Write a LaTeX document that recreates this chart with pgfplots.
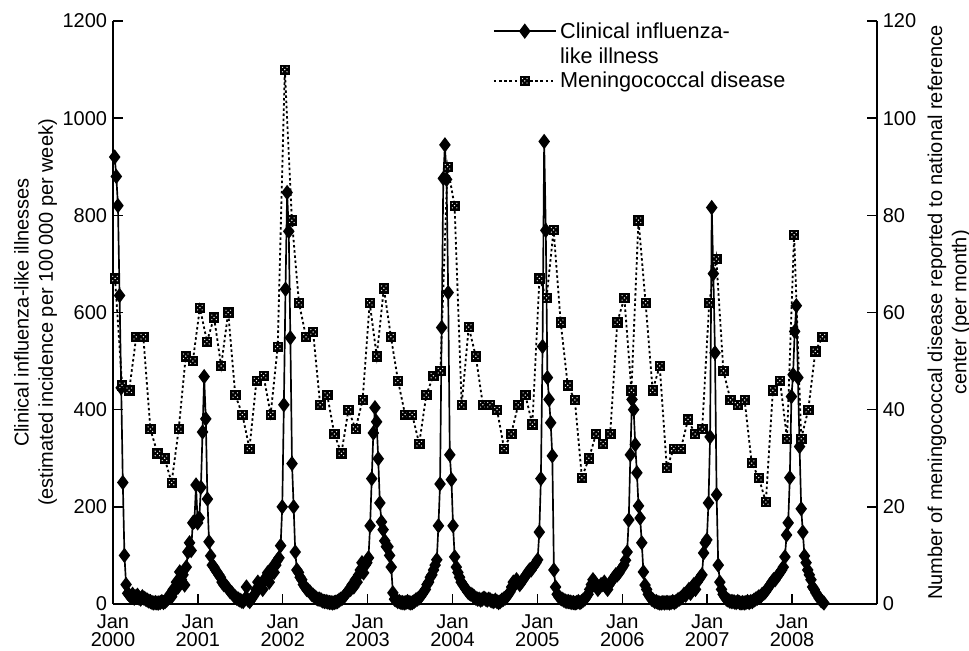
\documentclass[border=0pt]{standalone}
\usepackage{fontspec}
\setmainfont{Liberation Sans}
\usepackage{pgfplots}
\pgfplotsset{compat=1.18}
\usepackage{pgfplotstable}

% black box with a light dotted cross inside
\pgfdeclareplotmark{mbox}{%
  \pgfpathrectangle{\pgfqpoint{-\pgfplotmarksize}{-\pgfplotmarksize}}{\pgfqpoint{2\pgfplotmarksize}{2\pgfplotmarksize}}%
  \pgfusepathqfillstroke
  \pgfscope
  \pgfsetfillcolor{white}%
  \pgfpathcircle{\pgfqpoint{0pt}{0pt}}{0.16\pgfplotmarksize}%
  \pgfpathcircle{\pgfqpoint{0.48\pgfplotmarksize}{0.48\pgfplotmarksize}}{0.14\pgfplotmarksize}%
  \pgfpathcircle{\pgfqpoint{-0.48\pgfplotmarksize}{0.48\pgfplotmarksize}}{0.14\pgfplotmarksize}%
  \pgfpathcircle{\pgfqpoint{0.48\pgfplotmarksize}{-0.48\pgfplotmarksize}}{0.14\pgfplotmarksize}%
  \pgfpathcircle{\pgfqpoint{-0.48\pgfplotmarksize}{-0.48\pgfplotmarksize}}{0.14\pgfplotmarksize}%
  \pgfusepathqfill
  \endpgfscope
}

% clinical influenza-like illness, weekly, from first week of 2000
\pgfplotstableread[row sep=\\]{
v\\
920\\ 880\\ 820\\ 635\\ 445\\ 250\\ 100\\ 40\\ 22\\ 18\\
15\\ 20\\ 12\\ 15\\ 18\\ 12\\ 10\\ 15\\ 12\\ 10\\
8\\ 6\\ 5\\ 3\\ 2\\ 3\\ 2\\ 2\\ 3\\ 5\\
3\\ 5\\ 8\\ 12\\ 20\\ 15\\ 30\\ 28\\ 45\\ 35\\
66\\ 50\\ 60\\ 39\\ 76\\ 107\\ 126\\ 110\\ 167\\ 170\\
245\\ 167\\ 177\\ 240\\ 354\\ 468\\ 381\\ 216\\ 128\\ 99\\
80\\ 76\\ 70\\ 65\\ 60\\ 55\\ 45\\ 40\\ 39\\ 35\\
30\\ 25\\ 23\\ 18\\ 15\\ 12\\ 10\\ 8\\ 6\\ 5\\
10\\ 35\\ 8\\ 5\\ 10\\ 15\\ 20\\ 30\\ 45\\ 35\\
40\\ 30\\ 50\\ 55\\ 64\\ 45\\ 60\\ 76\\ 65\\ 80\\
90\\ 95\\ 120\\ 200\\ 410\\ 648\\ 847\\ 767\\ 548\\ 289\\
200\\ 107\\ 70\\ 65\\ 55\\ 50\\ 40\\ 35\\ 30\\ 28\\
25\\ 20\\ 18\\ 15\\ 12\\ 10\\ 10\\ 8\\ 6\\ 5\\
5\\ 4\\ 3\\ 3\\ 2\\ 3\\ 4\\ 5\\ 8\\ 10\\
12\\ 15\\ 20\\ 25\\ 29\\ 30\\ 40\\ 35\\ 50\\ 45\\
60\\ 70\\ 85\\ 64\\ 80\\ 85\\ 95\\ 161\\ 258\\ 352\\
404\\ 375\\ 299\\ 208\\ 169\\ 153\\ 130\\ 118\\ 118\\ 100\\
76\\ 23\\ 10\\ 8\\ 5\\ 5\\ 3\\ 3\\ 2\\ 3\\
5\\ 3\\ 2\\ 3\\ 5\\ 8\\ 10\\ 12\\ 15\\ 20\\
25\\ 30\\ 40\\ 45\\ 55\\ 60\\ 70\\ 80\\ 91\\ 161\\
247\\ 569\\ 876\\ 945\\ 874\\ 641\\ 307\\ 256\\ 161\\ 97\\
76\\ 65\\ 55\\ 45\\ 40\\ 35\\ 30\\ 25\\ 22\\ 20\\
18\\ 15\\ 12\\ 10\\ 10\\ 8\\ 10\\ 12\\ 10\\ 8\\
10\\ 8\\ 6\\ 5\\ 8\\ 5\\ 3\\ 5\\ 8\\ 10\\
12\\ 15\\ 20\\ 25\\ 35\\ 45\\ 40\\ 50\\ 45\\ 40\\
45\\ 50\\ 55\\ 60\\ 65\\ 70\\ 70\\ 76\\ 80\\ 85\\
91\\ 148\\ 258\\ 530\\ 952\\ 769\\ 466\\ 421\\ 373\\ 305\\
70\\ 35\\ 20\\ 15\\ 12\\ 10\\ 8\\ 6\\ 5\\ 5\\
4\\ 3\\ 3\\ 2\\ 3\\ 5\\ 3\\ 5\\ 8\\ 10\\
15\\ 20\\ 30\\ 40\\ 50\\ 45\\ 40\\ 30\\ 35\\ 40\\
40\\ 45\\ 35\\ 30\\ 40\\ 45\\ 50\\ 55\\ 60\\ 60\\
64\\ 70\\ 75\\ 80\\ 90\\ 107\\ 173\\ 307\\ 421\\ 400\\
328\\ 270\\ 202\\ 177\\ 126\\ 66\\ 39\\ 30\\ 20\\ 15\\
10\\ 8\\ 5\\ 5\\ 3\\ 2\\ 2\\ 3\\ 2\\ 3\\
3\\ 2\\ 3\\ 5\\ 3\\ 5\\ 8\\ 10\\ 12\\ 15\\
20\\ 18\\ 25\\ 30\\ 22\\ 35\\ 40\\ 30\\ 45\\ 50\\
55\\ 60\\ 105\\ 126\\ 132\\ 208\\ 344\\ 816\\ 680\\ 517\\
225\\ 80\\ 45\\ 30\\ 20\\ 15\\ 10\\ 8\\ 6\\ 5\\
5\\ 4\\ 3\\ 5\\ 3\\ 2\\ 3\\ 2\\ 3\\ 5\\
3\\ 5\\ 5\\ 8\\ 10\\ 12\\ 15\\ 15\\ 20\\ 22\\
25\\ 30\\ 35\\ 40\\ 45\\ 50\\ 50\\ 56\\ 60\\ 65\\
70\\ 76\\ 97\\ 142\\ 167\\ 260\\ 427\\ 472\\ 561\\ 614\\
466\\ 324\\ 196\\ 148\\ 99\\ 85\\ 70\\ 60\\ 50\\ 35\\
30\\ 23\\ 18\\ 12\\ 8\\ 5\\ 2\\
}\ili

% meningococcal disease, monthly, from January 2000
\pgfplotstableread[row sep=\\]{
n\\
67\\ 45\\ 44\\ 55\\ 55\\ 36\\ 31\\ 30\\ 25\\ 36\\ 51\\ 50\\
61\\ 54\\ 59\\ 49\\ 60\\ 43\\ 39\\ 32\\ 46\\ 47\\ 39\\ 53\\
110\\ 79\\ 62\\ 55\\ 56\\ 41\\ 43\\ 35\\ 31\\ 40\\ 36\\ 42\\
62\\ 51\\ 65\\ 55\\ 46\\ 39\\ 39\\ 33\\ 43\\ 47\\ 48\\ 90\\
82\\ 41\\ 57\\ 51\\ 41\\ 41\\ 40\\ 32\\ 35\\ 41\\ 43\\ 37\\
67\\ 63\\ 77\\ 58\\ 45\\ 42\\ 26\\ 30\\ 35\\ 33\\ 35\\ 58\\
63\\ 44\\ 79\\ 62\\ 44\\ 49\\ 28\\ 32\\ 32\\ 38\\ 35\\ 36\\
62\\ 71\\ 48\\ 42\\ 41\\ 42\\ 29\\ 26\\ 21\\ 44\\ 46\\ 34\\
76\\ 34\\ 40\\ 52\\ 55\\
}\men

\pgfplotsset{
  ili/.style={black, line width=1pt, mark=diamond*, mark size=3.8pt, mark options={solid, fill=black}},
  menstyle/.style={black, line width=1.1pt, dash pattern=on 1.5pt off 1.6pt, mark=mbox, mark size=2.8pt, mark options={solid, fill=black, line width=0.4pt}},
  common/.style={
    scale only axis, width=458.4pt, height=349.8pt,
    xmin=2000, xmax=2009, clip=false,
    axis line style={-, line width=0.9pt},
    every tick/.style={black, line width=0.9pt}, major tick length=6pt,
    tick label style={font=\fontsize{12}{12.5}\selectfont},
    yticklabel style={inner ysep=0.5pt},
    label style={font=\fontsize{12}{14.5}\selectfont},
    /pgf/number format/assume math mode=true,
    /pgf/number format/1000 sep={},
  },
  legend image code/.code={\draw[#1, mark repeat=2, mark phase=2] plot coordinates {(0pt,4.3pt) (18.5pt,4.3pt) (37pt,4.3pt)};},
}

\begin{document}
\begin{tikzpicture}
\path[use as bounding box] (-67.8pt,-28.2pt) rectangle (513.6pt,362.4pt);
\begin{axis}[
  common,
  ymin=0, ymax=1200,
  axis x line*=bottom, axis y line*=left,
  xtick={2000,...,2008},
  xticklabels={Jan\\2000,Jan\\2001,Jan\\2002,Jan\\2003,Jan\\2004,Jan\\2005,Jan\\2006,Jan\\2007,Jan\\2008},
  xticklabel style={align=center, inner sep=0.5pt, yshift=-5.5pt, font=\fontsize{12}{11}\selectfont},
  ytick={0,200,...,1200},
  ylabel={Clinical influenza-like illnesses\\(estimated incidence per 100\,000 per week)},
  ylabel style={align=center},
  ylabel shift=-3.5pt,
]
\addplot[ili] table[x expr=2000.02+\coordindex/52.18, y=v] {\ili};
\end{axis}
\begin{axis}[
  common,
  ymin=0, ymax=120,
  axis x line=none, axis y line*=right,
  ytick={0,20,...,120},
  ylabel={Number of meningococcal disease reported to national reference\\center (per month)},
  ylabel style={align=center},
  legend style={at={(rel axis cs:0.497,0.998)}, anchor=north west, draw=none, fill=none,
    inner sep=0pt, row sep=2.4pt, font=\fontsize{13}{14.4}\selectfont,
    cells={anchor=base west},
    nodes={inner sep=0pt, text height=9.5pt, text depth=3pt}},
]
\addlegendimage{ili}
\addlegendentry{\,Clinical influenza-}
\addlegendimage{empty legend}
\addlegendentry{\,like illness}
\addplot[menstyle] table[x expr=2000.024+\coordindex/12, y=n] {\men};
\addlegendentry{\,Meningococcal disease}
\end{axis}
\end{tikzpicture}
\end{document}
